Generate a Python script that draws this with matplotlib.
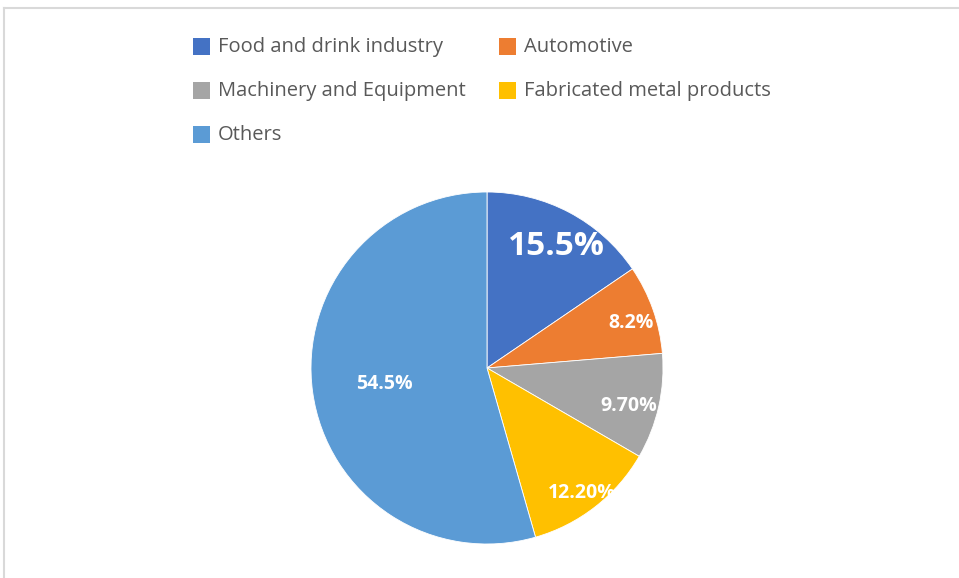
import matplotlib.pyplot as plt
from matplotlib.patches import Rectangle
from matplotlib.lines import Line2D

plt.rcParams['font.family'] = ['Open Sans', 'DejaVu Sans']

categories = ["Food and drink industry", "Automotive", "Machinery and Equipment",
              "Fabricated metal products", "Others"]
shares = [15.5, 8.2, 9.7, 12.2, 54.5]
value_labels = ["15.5%", "8.2%", "9.70%", "12.20%", "54.5%"]
colors = ["#4472c4", "#ed7d31", "#a5a5a5", "#ffc000", "#5b9bd5"]

W, H = 959, 578
fig = plt.figure(figsize=(W / 100, H / 100), dpi=100)
fig.patch.set_facecolor("white")

# pie axes: centre (487, 368), radius 176 px
cx, cy, r = 487, 368, 176
ax = fig.add_axes([(cx - r) / W, 1 - (cy + r) / H, 2 * r / W, 2 * r / H])
wedges, _ = ax.pie(shares, colors=colors, startangle=90, counterclock=False,
                   wedgeprops=dict(linewidth=0.6, edgecolor="white"))
ax.set_xlim(-1, 1)
ax.set_ylim(-1, 1)
ax.set_aspect("equal")

# value labels (pixel positions inside each slice)
label_pos = [(556, 246), (631, 323), (629, 406), (582, 493), (384, 384)]
label_size = [24, 14, 14, 14, 14]
for txt, (px, py), fs in zip(value_labels, label_pos, label_size):
    fig.text(px / W, 1 - py / H, txt, ha="center", va="center", color="white",
             fontsize=fs, fontweight="bold")

# legend
legend_pos = [(193, 47), (499, 47), (193, 91), (499, 91), (193, 135)]
for name, col, (px, py) in zip(categories, colors, legend_pos):
    fig.patches.append(Rectangle((px / W, 1 - (py + 8) / H), 17 / W, 17 / H,
                                 facecolor=col, edgecolor="none",
                                 transform=fig.transFigure, figure=fig))
    fig.text((px + 25) / W, 1 - py / H, name, ha="left", va="center",
             color="#595959", fontsize=14.5)

# chart frame
fig.lines.append(Line2D([4 / W, 1], [1 - 8 / H, 1 - 8 / H], color="#d9d9d9",
                        linewidth=1.5, transform=fig.transFigure))
fig.lines.append(Line2D([4 / W, 4 / W], [0, 1 - 8 / H], color="#d9d9d9",
                        linewidth=1.5, transform=fig.transFigure))

fig.savefig("out.png", dpi=100)
